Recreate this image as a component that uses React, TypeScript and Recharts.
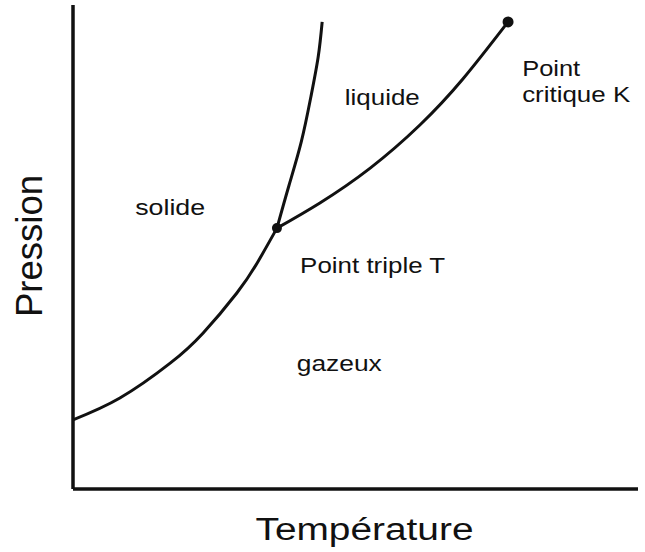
import { ComposedChart, Line, XAxis, YAxis, ReferenceDot } from "recharts";

// Phase diagram curves, arbitrary units (temperature 0-100, pressure 0-100)
const sublimation = [
  { t: 0, p: 14.3 },
  { t: 8.3, p: 18.8 },
  { t: 17.2, p: 26.0 },
  { t: 23.0, p: 32.2 },
  { t: 29.0, p: 40.5 },
  { t: 32.6, p: 46.7 },
  { t: 36.1, p: 53.9 },
];

const fusion = [
  { t: 36.1, p: 53.9 },
  { t: 38.2, p: 62.6 },
  { t: 40.4, p: 71.7 },
  { t: 42.1, p: 81.0 },
  { t: 43.4, p: 89.3 },
  { t: 44.1, p: 96.5 },
];

const vaporization = [
  { t: 36.1, p: 53.9 },
  { t: 43.7, p: 59.1 },
  { t: 52.6, p: 66.3 },
  { t: 61.4, p: 75.2 },
  { t: 69.0, p: 84.7 },
  { t: 77.0, p: 96.5 },
];

const triplePoint = { t: 36.1, p: 53.9 };
const criticalPoint = { t: 77.0, p: 96.5 };

const regionLabels = [
  { text: "solide", t: 11.0, p: 56.6, len: 70 },
  { text: "liquide", t: 48.1, p: 79.3, len: 75 },
  { text: "Point triple T", t: 40.2, p: 44.6, len: 145 },
  { text: "gazeux", t: 39.6, p: 24.4, len: 85 },
  { text: "Point", t: 79.5, p: 85.3, len: 58 },
  { text: "critique K", t: 79.5, p: 80.0, len: 108 },
];

const FONT = "'Liberation Sans', Arial, sans-serif";
const INK = "#111";

function textAt(text: string, len: number) {
  return {
    content: (props: any) => {
      const vb = props.viewBox || {};
      return (
        <text
          x={vb.x}
          y={vb.y}
          fontFamily={FONT}
          fontSize={22}
          fill={INK}
          textLength={len}
          lengthAdjust="spacingAndGlyphs"
        >
          {text}
        </text>
      );
    },
  };
}

export default function App() {
  return (
    <div style={{ position: "absolute", left: 0, top: 0, background: "#fff" }}>
      <ComposedChart
        width={645}
        height={552}
        margin={{ top: 5, right: 7, bottom: 0, left: 0 }}
      >
        <XAxis
          dataKey="t"
          type="number"
          domain={[0, 100]}
          height={63}
          tick={false}
          tickLine={false}
          axisLine={{ stroke: INK, strokeWidth: 3.5 }}
          label={{
            content: (props: any) => {
              const vb = props.viewBox || {};
              return (
                <text
                  x={vb.x + vb.width / 2 + 9}
                  y={vb.y + 51}
                  textAnchor="middle"
                  fontFamily={FONT}
                  fontSize={31}
                  fill={INK}
                  textLength={218}
                  lengthAdjust="spacingAndGlyphs"
                >
                  Température
                </text>
              );
            },
          }}
        />
        <YAxis
          dataKey="p"
          type="number"
          domain={[0, 100]}
          width={73}
          tick={false}
          tickLine={false}
          axisLine={{ stroke: INK, strokeWidth: 3.5 }}
          label={{
            content: (props: any) => {
              const vb = props.viewBox || {};
              const x = vb.x + 42;
              const y = vb.y + vb.height / 2 - 1;
              return (
                <text
                  x={x}
                  y={y}
                  transform={`rotate(-90 ${x} ${y})`}
                  textAnchor="middle"
                  fontFamily={FONT}
                  fontSize={36}
                  fill={INK}
                  textLength={142}
                  lengthAdjust="spacingAndGlyphs"
                >
                  Pression
                </text>
              );
            },
          }}
        />
        <Line
          data={sublimation}
          dataKey="p"
          type="natural"
          stroke={INK}
          strokeWidth={3}
          dot={false}
          activeDot={false}
          isAnimationActive={false}
        />
        <Line
          data={fusion}
          dataKey="p"
          type="natural"
          stroke={INK}
          strokeWidth={3}
          dot={false}
          activeDot={false}
          isAnimationActive={false}
        />
        <Line
          data={vaporization}
          dataKey="p"
          type="natural"
          stroke={INK}
          strokeWidth={3}
          dot={false}
          activeDot={false}
          isAnimationActive={false}
        />
        <ReferenceDot x={triplePoint.t} y={triplePoint.p} r={5} fill={INK} stroke="none" />
        <ReferenceDot x={criticalPoint.t} y={criticalPoint.p} r={5.5} fill={INK} stroke="none" />
        {regionLabels.map((l) => (
          <ReferenceDot
            key={l.text}
            x={l.t}
            y={l.p}
            r={0}
            fill="none"
            stroke="none"
            label={textAt(l.text, l.len)}
          />
        ))}
      </ComposedChart>
    </div>
  );
}
